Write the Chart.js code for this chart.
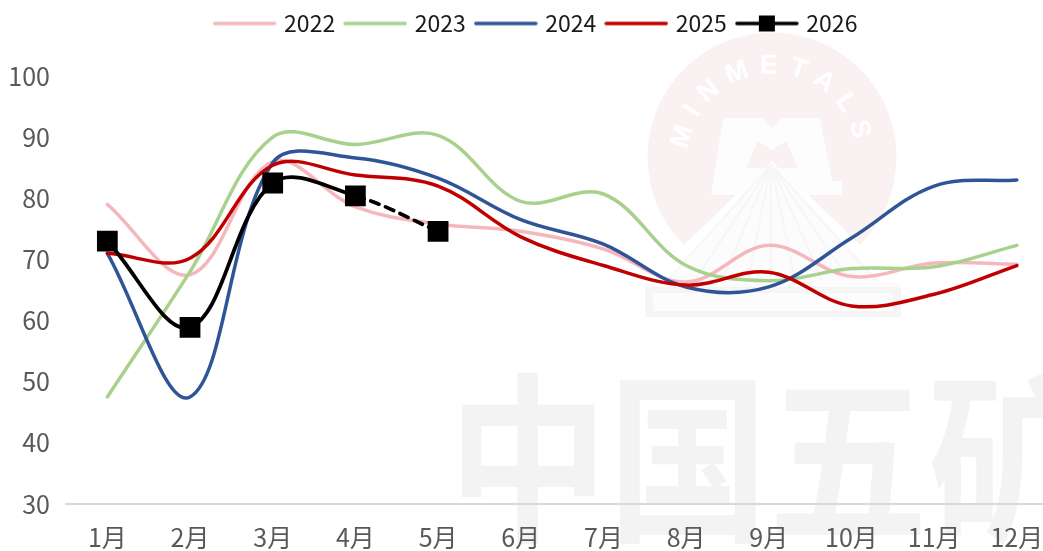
<!DOCTYPE html>
<html lang="zh">
<head>
<meta charset="utf-8">
<title>五矿图表</title>
<style>
    html, body { margin: 0; padding: 0; background: #fff; overflow: hidden; }
    #wrap { position: relative; width: 1043px; height: 551px; overflow: hidden; }
    #mark { position: absolute; left: 0; top: 0; }
    #chart { position: absolute; left: 0; top: 0; }
</style>
</head>
<body>
<div id="wrap">
    <!-- watermark behind the chart -->
    <svg id="mark" width="1043" height="551" viewBox="0 0 1043 551">
        <defs>
            <path id="arc" d="M 693 186 A 84 84 0 1 1 851 186"></path>
        </defs>
        <circle cx="772" cy="157" r="124.5" fill="#faf1f2"></circle>
        <path d="M 645 283 L 772 160 L 900 283 Z" fill="#fff"></path>
        <path d="M 645 286 L 645 317 L 901 317 L 901 283 L 880 283 L 772 163 L 668 283 Z" fill="#fcfcfc"></path>
        <path d="M 702 195 L 711 195 L 723 118 L 762 118 L 772 128 L 782 118 L 820 118 L 832 181 L 842 181 L 842 195 Z" fill="#fdfdfd"></path>
        <path d="M 746 168 L 758 141 L 772 150 L 786 141 L 798 168 L 778 168 L 772 160 L 766 168 Z" fill="#faf1f2"></path>
        <g stroke="#f6f6f6" stroke-width="2">
            <line x1="771" y1="165" x2="668" y2="280"></line>
            <line x1="771" y1="165" x2="695" y2="280"></line>
            <line x1="771" y1="165" x2="722" y2="280"></line>
            <line x1="771" y1="165" x2="748" y2="280"></line>
            <line x1="771" y1="165" x2="771" y2="280"></line>
            <line x1="771" y1="165" x2="795" y2="280"></line>
            <line x1="771" y1="165" x2="822" y2="280"></line>
            <line x1="771" y1="165" x2="849" y2="280"></line>
            <line x1="771" y1="165" x2="876" y2="280"></line>
        </g>
        <rect x="645" y="287" width="256" height="30" fill="#f5f5f5"></rect>
        <rect x="653" y="293" width="240" height="18" fill="#fcfcfc"></rect>
        <text font-family="Liberation Sans" font-weight="700" font-size="27" fill="#fff" letter-spacing="10">
            <textPath href="#arc" startOffset="50%" text-anchor="middle">MINMETALS</textPath>
        </text>
        <text transform="translate(448 527) scale(1 1.13)" font-family="Noto Sans CJK SC" font-weight="700" font-size="160" fill="#f3f3f3">中国五矿</text>
    </svg>
    <canvas id="chart"></canvas>
</div>
<script src="https://cdn.jsdelivr.net/npm/chart.js@4/dist/chart.umd.min.js"></script>
<script>
const months = ['1月', '2月', '3月', '4月', '5月', '6月', '7月', '8月', '9月', '10月', '11月', '12月'];
const years = ['2022', '2023', '2024', '2025', '2026'];
const values2022 = [79, 67.5, 86, 78.6, 75.8, 74.6, 71.7, 66.3, 72.3, 67.2, 69.4, 69.2];
const values2023 = [47.5, 68, 90, 88.8, 90.3, 79.5, 80.7, 69, 66.5, 68.5, 68.8, 72.3];
const values2024 = [71, 47.5, 85.8, 86.6, 83.3, 76.5, 72.5, 65.5, 65.5, 73.5, 82, 83];
const values2025 = [71, 70.2, 85.4, 83.8, 82, 73.7, 69, 65.8, 67.9, 62.4, 64.3, 69];
const values2026 = [73, 58.9, 82.5, 80.4, 74.6];
const lineColors = ['#f4b8bc', '#a9d18e', '#2f5597', '#c00000', '#000000'];

// Legend handle: a short line, with a square on it for the marked series
function makeHandle(color, withSquare) {
    const c = document.createElement('canvas');
    c.width = 64;
    c.height = 20;
    const g = c.getContext('2d');
    g.strokeStyle = color;
    g.lineWidth = 3.5;
    g.lineCap = 'round';
    g.beginPath();
    g.moveTo(2, 10);
    g.lineTo(62, 10);
    g.stroke();
    if (withSquare) {
        g.fillStyle = color;
        g.fillRect(24, 2, 16, 16);
    }
    return c;
}

const handles = lineColors.map((color, i) => makeHandle(color, i === 4));

function makeDataset(i, values) {
    return {
        label: years[i],
        data: values,
        borderColor: lineColors[i],
        backgroundColor: lineColors[i],
        borderWidth: 3.5,
        borderCapStyle: 'round',
        tension: 0.36,
        pointRadius: 0,
        order: 4 - i
    };
}

const marked = makeDataset(4, values2026);
marked.pointRadius = 12;
marked.pointStyle = 'rect';
marked.borderWidth = 3.8;
// last stretch is provisional
marked.segment = {
    borderDash: ctx => ctx.p0DataIndex === 3 ? [9, 7] : undefined
};

// Moves the legend up to where the picture has it, without touching the plot area
const legendShift = {
    id: 'legendShift',
    afterLayout(chart) {
        chart.legend.top -= 31;
        chart.legend.bottom -= 31;
    }
};

const fontFamily = '"Noto Sans CJK SC", "Noto Sans", sans-serif';
const legendFont = { family: fontFamily, size: 23 };
const tickFont = { family: fontFamily, size: 25 };

// Wider than the window on purpose: the picture cuts the axis off on the right
const canvas = document.getElementById('chart');
canvas.width = 1074;
canvas.height = 551;

new Chart(canvas, {
    type: 'line',
    data: {
        labels: months,
        datasets: [
            makeDataset(0, values2022),
            makeDataset(1, values2023),
            makeDataset(2, values2024),
            makeDataset(3, values2025),
            marked
        ]
    },
    plugins: [legendShift],
    options: {
        responsive: false,
        animation: false,
        layout: {
            padding: { top: 31 }
        },
        plugins: {
            tooltip: { enabled: false },
            legend: {
                position: 'top',
                labels: {
                    usePointStyle: true,
                    pointStyleWidth: 56,
                    padding: 12,
                    color: '#1a1a1a',
                    font: legendFont,
                    sort: (a, b) => a.datasetIndex - b.datasetIndex,
                    generateLabels(chart) {
                        const items = Chart.defaults.plugins.legend.labels.generateLabels(chart);
                        items.forEach(item => { item.pointStyle = handles[item.datasetIndex]; });
                        return items;
                    }
                }
            }
        },
        scales: {
            x: {
                offset: true,
                grid: { display: false },
                border: { color: '#d9d9d9', width: 2 },
                ticks: { color: '#595959', font: tickFont, padding: 10, maxRotation: 0, autoSkip: false },
                afterFit(scale) { scale.height = 47; }
            },
            y: {
                min: 30,
                max: 100,
                grid: { display: false },
                border: { display: false },
                ticks: { stepSize: 10, color: '#595959', font: tickFont, padding: 8 },
                afterFit(scale) { scale.width = 66; }
            }
        }
    }
});
</script>
</body>
</html>
